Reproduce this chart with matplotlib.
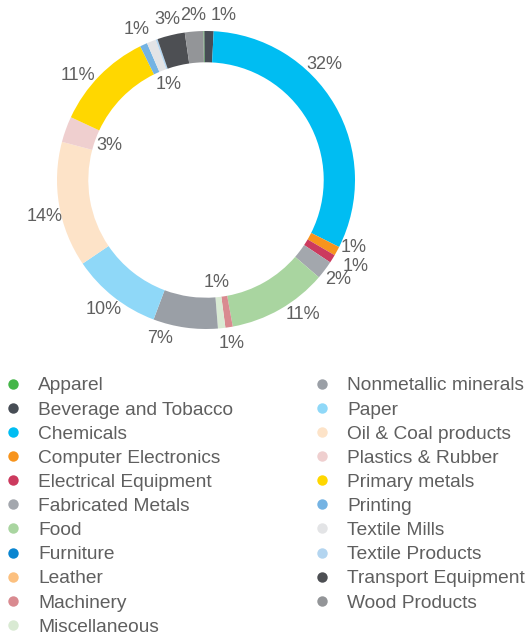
import numpy as np
import matplotlib
matplotlib.use("Agg")
import matplotlib.pyplot as plt
from matplotlib.lines import Line2D

# share of energy use by manufacturing sub-sector, in percent
categories = [
    "Apparel", "Beverage and Tobacco", "Chemicals", "Computer Electronics",
    "Electrical Equipment", "Fabricated Metals", "Food", "Furniture",
    "Leather", "Machinery", "Miscellaneous", "Nonmetallic minerals",
    "Paper", "Oil & Coal products", "Plastics & Rubber", "Primary metals",
    "Printing", "Textile Mills", "Textile Products", "Transport Equipment",
    "Wood Products",
]
shares = [
    0.1, 1.0, 31.6, 1.0,
    0.9, 2.0, 10.8, 0.0,
    0.0, 0.8, 0.8, 7.0,
    9.8, 13.6, 2.8, 10.8,
    0.8, 1.0, 0.2, 3.0,
    2.0,
]
colors = [
    "#45b649", "#474d55", "#00bdf2", "#f7941d",
    "#cc3a5e", "#a3a7ad", "#a9d5a0", "#0a85d0",
    "#fcc07f", "#d98a90", "#d9ead3", "#9a9fa6",
    "#8fd8f8", "#fde3c8", "#efcfcf", "#ffd700",
    "#74b3e3", "#e3e4e6", "#b3d5f0", "#4d4f53",
    "#939598",
]

# label placement: radius (in ring radii) and clockwise nudge (deg)
label_r = {"Miscellaneous": 0.69, "Plastics & Rubber": 0.69, "Textile Mills": 0.69,
           "Computer Electronics": 1.09, "Electrical Equipment": 1.16}
nudge = {"Chemicals": -14, "Computer Electronics": -4, "Electrical Equipment": -2,
         "Food": -6, "Nonmetallic minerals": 8, "Oil & Coal products": -3,
         "Primary metals": -5, "Beverage and Tobacco": 5}

plt.rcParams["font.family"] = ["Liberation Sans", "DejaVu Sans"]
text_color = "#5f5f5f"

fig = plt.figure(figsize=(5.25, 6.35), dpi=100)
W, H = 525, 635
cx, cy, R = 206, 180, 149
ax = fig.add_axes([(cx - R) / W, 1 - (cy + R) / H, 2 * R / W, 2 * R / H])

start = 91
wedges, _ = ax.pie(shares, colors=colors, startangle=start, counterclock=False,
                   radius=1.0, wedgeprops=dict(width=0.21, linewidth=0))
ax.set_xlim(-1, 1)
ax.set_ylim(-1, 1)
ax.set_aspect("equal")
ax.axis("off")

total = sum(shares)
cum = 0.0
for name, val in zip(categories, shares):
    mid = cum + val / 2
    cum += val
    if round(val) < 1:
        continue
    theta = start - 360 * mid / total - nudge.get(name, 0)
    r = label_r.get(name, 1.11)
    x = r * np.cos(np.radians(theta))
    y = r * np.sin(np.radians(theta))
    ax.text(x, y, f"{round(val)}%", ha="center", va="center",
            fontsize=13, color=text_color)

handles = [Line2D([], [], marker="o", linestyle="none", markersize=7.5,
                  markerfacecolor=c, markeredgewidth=0) for c in colors]
fig.legend(handles, categories, ncol=2, loc="upper left",
           bbox_to_anchor=(3.5 / W, 1 - 377 / H), frameon=False,
           fontsize=13.8, labelcolor=text_color, handlelength=1.0,
           handletextpad=0.8, labelspacing=0.35, columnspacing=4.15,
           borderaxespad=0, borderpad=0)

fig.savefig("out.png", dpi=100, facecolor="white")
